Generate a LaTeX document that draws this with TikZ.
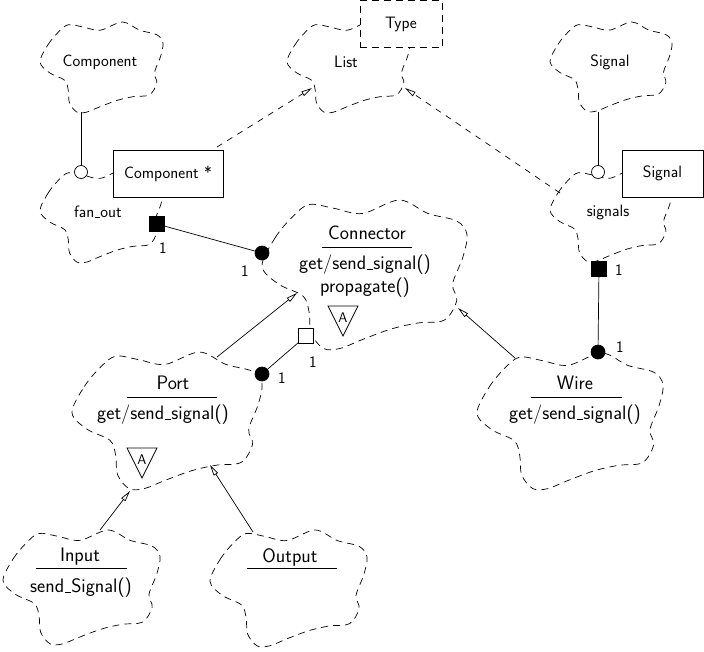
\documentclass[tikz,border=0pt]{standalone}
\usepackage{fontspec}
\usetikzlibrary{arrows.meta}
\tikzset{
  every path/.style={line width=0.7pt},
  cloudline/.style={draw, dash pattern=on 7pt off 5pt},
  lbl/.style={font=\sffamily\fontsize{16.5}{19}\selectfont\addfontfeatures{LetterSpace=6}, inner sep=0pt},
  big/.style={font=\sffamily\fontsize{19.5}{22}\selectfont, inner sep=0pt},
  one/.style={font=\sffamily\fontsize{16}{18}\selectfont, inner sep=0pt},
  inst/.style={draw, fill=white, minimum width=#1, minimum height=47pt, inner sep=0pt},
  hcirc/.style={draw, fill=white, circle, minimum size=13pt, inner sep=0pt},
  fcirc/.style={draw, fill=black, circle, minimum size=14pt, inner sep=0pt},
  fsq/.style={draw, fill=black, minimum size=15pt, inner sep=0pt},
  hsq/.style={draw, fill=white, minimum size=15pt, inner sep=0pt},
  oarr/.style={-{Triangle[open,length=11pt,width=5pt]}},
  darr/.style={dash pattern=on 6pt off 6pt, -{Triangle[open,length=11pt,width=5pt]}},
}
\newcommand{\us}{\kern0.6pt\rule{0.3em}{1.1pt}\kern0.6pt}
\newcommand{\bcloud}[4]{%
  \begin{scope}[shift={(#1,#2)},xscale=#3,yscale=#4]
    \draw[cloudline] plot[smooth cycle,tension=0.55] coordinates{(0,0.44)(0.065,0.25)(0.15,0.11)(0.23,0.03)(0.35,0.055)(0.49,0.09)(0.67,0)(0.81,0.09)(0.95,0.14)(1,0.23)(0.98,0.38)(0.93,0.56)(0.95,0.67)(0.89,0.80)(0.76,0.82)(0.63,0.86)(0.49,0.93)(0.38,0.99)(0.30,0.99)(0.24,0.89)(0.23,0.75)(0.20,0.64)(0.08,0.56)};
  \end{scope}}
\newcommand{\abstri}[3]{% name, x center, y top
  \draw (#2-15,#3) -- (#2+15,#3) -- (#2,#3+30) -- cycle;
  \node[font=\sffamily\fontsize{14}{15}\selectfont, inner sep=0pt] (#1) at (#2,#3+12) {A};}
\begin{document}
\begin{tikzpicture}[x=1pt,y=-1pt]
\useasboundingbox (0,0) rectangle (704,651);
% clouds
\bcloud{40}{22}{123}{91}
\bcloud{287}{22}{123}{91}
\bcloud{550}{22}{122}{90}
\bcloud{40}{170}{123}{93}
\bcloud{550}{170}{122}{92}
\bcloud{262}{200}{205}{150}
\bcloud{72}{352}{190}{138}
\bcloud{477}{353}{186}{137}
\bcloud{3}{530}{157}{115}
\bcloud{210}{530}{157}{117}
% boxes
\node[inst=82pt, dash pattern=on 7pt off 5pt] (type) at (401,24) {};
\node[lbl] at (type) {Type};
\node[inst=110pt] (cstar) at (168,173.5) {};
\node[lbl] at (cstar) {Component *};
\node[inst=81pt] (sigbox) at (662.5,173.5) {};
\node[lbl] at (sigbox) {Signal};
% small labels
\node[lbl] (compT) at (100,62) {Component};
\node[lbl] (listT) at (346,62) {List};
\node[lbl] (sigT) at (610,62) {Signal};
\node[lbl] (fanT) at (98,212) {fan\us out};
\node[lbl] (sigsT) at (608,212) {signals};
% has-by-reference circles
\coordinate (compB) at (81,112);
\coordinate (sigB) at (598,112);
\node[hcirc] (hc1) at (81,172) {};
\node[hcirc] (hc2) at (598,172) {};
\draw (compB) -- (hc1);
\draw (sigB) -- (hc2);
% instantiation dashed arrows
\coordinate (cstarT) at (217,147);
\coordinate (listL) at (312,88);
\coordinate (sigsT2) at (560,193);
\coordinate (listR) at (405,88);
\draw[darr] (cstarT) -- (listL);
\draw[darr] (sigsT2) -- (listR);
% fan_out -- Connector
\node[fsq] (sq1) at (157,224) {};
\node[fcirc] (fc1) at (262,253) {};
\draw (sq1) -- (fc1);
\node[one] at (163,248) {1};
\node[one] at (245,271) {1};
% signals -- Wire
\node[fsq] (sq2) at (599,269) {};
\node[fcirc] (fc2) at (598,352) {};
\draw (sq2) -- (fc2);
\node[one] at (619,270) {1};
\node[one] at (620,347) {1};
% Connector -- Port
\node[hsq] (hs1) at (306,336) {};
\node[fcirc] (fc3) at (262,374) {};
\draw (hs1) -- (fc3);
\node[one] at (313,362) {1};
\node[one] at (282,378) {1};
% Connector text
\node[big] (conT) at (367,233) {Connector};
\coordinate (conUL) at (322,247); \coordinate (conUR) at (412,247);
\draw (conUL) -- (conUR);
\node[big] (conM1) at (365,265) {get/send\us signal()};
\node[big] (conM2) at (365,288) {propagate()};
\abstri{conA}{343}{306}
% Port text
\node[big] (portT) at (173,383) {Port};
\coordinate (portUL) at (127,397); \coordinate (portUR) at (217,397);
\draw (portUL) -- (portUR);
\node[big] (portM) at (163,415) {get/send\us signal()};
\abstri{portA}{142}{448}
% Wire text
\node[big] (wireT) at (575,383) {Wire};
\coordinate (wireUL) at (531,397); \coordinate (wireUR) at (622,397);
\draw (wireUL) -- (wireUR);
\node[big] (wireM) at (575,415) {get/send\us signal()};
% Input text
\node[big] (inT) at (80,557) {Input};
\coordinate (inUL) at (36,568); \coordinate (inUR) at (127,568);
\draw (inUL) -- (inUR);
\node[big] (inM) at (81,588) {send\us Signal()};
% Output text
\node[big] (outT) at (290,557) {Output};
\coordinate (outUL) at (247,568); \coordinate (outUR) at (337,568);
\draw (outUL) -- (outUR);
% inheritance arrows
\coordinate (portTop) at (217,357);
\coordinate (conLow) at (297,293);
\coordinate (wireTop) at (515,358);
\coordinate (conRight) at (458,308);
\coordinate (inTop) at (100,530);
\coordinate (portBL) at (130,491);
\coordinate (outTop) at (253,532);
\coordinate (portBR) at (210,465);
\draw[oarr] (portTop) -- (conLow);
\draw[oarr] (wireTop) -- (conRight);
\draw[oarr] (inTop) -- (portBL);
\draw[oarr] (outTop) -- (portBR);
\end{tikzpicture}
\end{document}
